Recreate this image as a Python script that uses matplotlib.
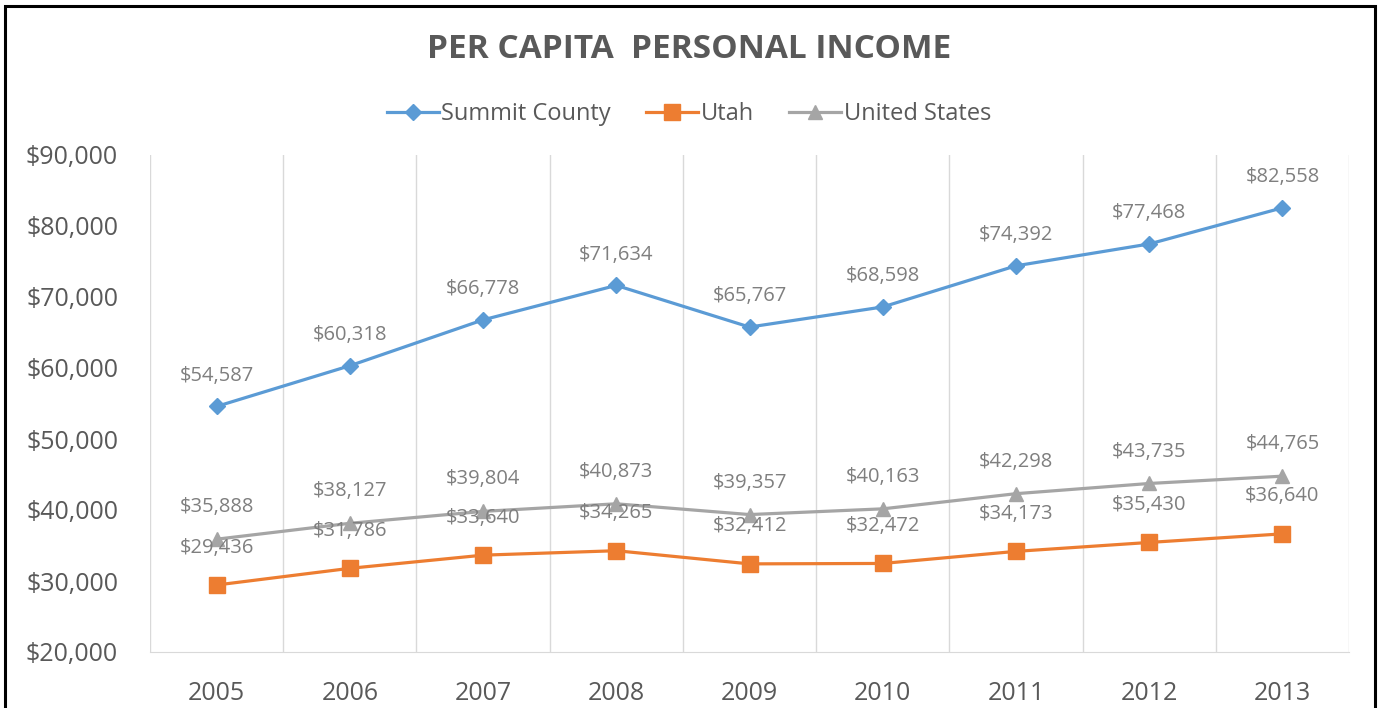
import matplotlib.pyplot as plt
from matplotlib.patches import Rectangle

years = ["2005", "2006", "2007", "2008", "2009", "2010", "2011", "2012", "2013"]
summit = [54587, 60318, 66778, 71634, 65767, 68598, 74392, 77468, 82558]
utah = [29436, 31786, 33640, 34265, 32412, 32472, 34173, 35430, 36640]
us = [35888, 38127, 39804, 40873, 39357, 40163, 42298, 43735, 44765]

plt.rcParams["font.family"] = ["Open Sans", "DejaVu Sans"]

fig = plt.figure(figsize=(13.78, 7.08), dpi=100)
ax = fig.add_axes([150 / 1378, 56 / 708, 1199 / 1378, 497 / 708])

x = list(range(len(years)))
series = [
    ("Summit County", summit, "#5B9BD5", "D", 8, 22),
    ("Utah", utah, "#ED7D31", "s", 11, 27),
    ("United States", us, "#A5A5A5", "^", 10, 23),
]
for name, vals, col, mk, ms, off in series:
    ax.plot(x, vals, color=col, lw=2.3, marker=mk, markersize=ms, label=name)
    for xi, v in zip(x, vals):
        ax.annotate(f"${v:,}", (xi, v), xytext=(0, off), textcoords="offset points",
                    ha="center", va="center", fontsize=14.5, color="#7F7F7F")

ax.set_xlim(-0.5, len(years) - 0.5)
ax.set_ylim(20000, 90000)
ax.set_yticks(range(20000, 90001, 10000))
ax.set_yticklabels([f"${v:,}" for v in range(20000, 90001, 10000)])
ax.set_xticks(x)
ax.set_xticklabels(years)
ax.tick_params(axis="y", length=0, pad=23, labelsize=18, labelcolor="#595959")
ax.tick_params(axis="x", length=0, pad=21, labelsize=18, labelcolor="#595959")

# vertical gridlines at category boundaries
for b in [i - 0.5 for i in range(len(years) + 1)]:
    ax.axvline(b, color="#D9D9D9", lw=1, zorder=0)
for s in ["top", "left", "right"]:
    ax.spines[s].set_visible(False)
ax.spines["bottom"].set_color("#D9D9D9")

fig.text(0.5, (708 - 49) / 708, "PER CAPITA  PERSONAL INCOME", ha="center", va="center",
         fontsize=24, fontweight="bold", color="#595959")

fig.legend(loc="center", bbox_to_anchor=(0.5, (708 - 114) / 708), ncol=3, frameon=False,
           fontsize=17, labelcolor="#595959", handlelength=2.2, handletextpad=0.1,
           columnspacing=1.5)

fig.patches.append(Rectangle((5 / 1378, -0.1), 1370 / 1378, 0.1 + 702 / 708,
                             transform=fig.transFigure, fill=False, edgecolor="black",
                             lw=2.2, zorder=10))

fig.savefig("out.png", dpi=100)
